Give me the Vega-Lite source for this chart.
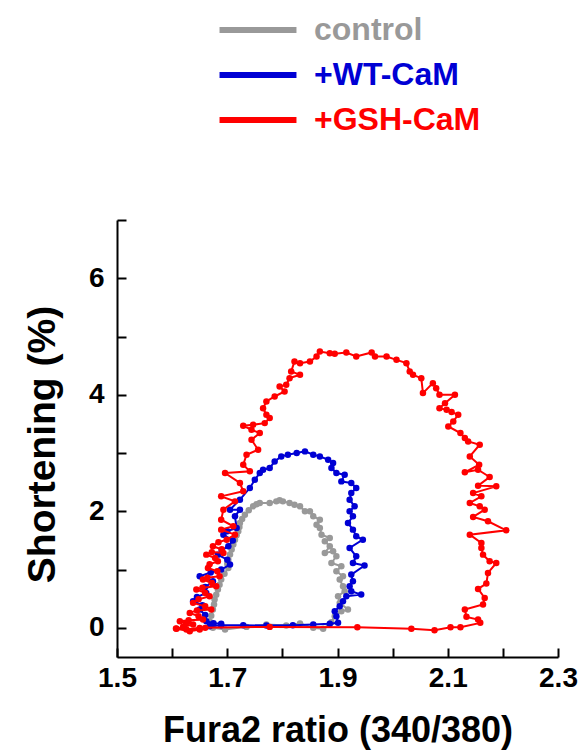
{
  "$schema": "https://vega.github.io/schema/vega-lite/v6.json",
  "autosize": {"type": "none"},
  "padding": {"left": 117, "top": 220, "right": 22, "bottom": 98},
  "width": 441,
  "height": 437,
  "background": "white",
  "config": {
    "font": "Liberation Sans",
    "view": {"stroke": null},
    "axis": {
      "grid": false,
      "domainColor": "black",
      "domainWidth": 2,
      "tickColor": "black",
      "tickWidth": 2,
      "tickSize": -9,
      "labelFont": "Liberation Sans",
      "labelFontSize": 28,
      "labelFontWeight": "bold",
      "labelColor": "black",
      "titleFont": "Liberation Sans",
      "titleFontWeight": "bold",
      "titleColor": "black"
    }
  },
  "data": {
    "values": [
      {"s": "control", "i": 1, "x": 1.674, "y": 0},
      {"s": "control", "i": 2, "x": 1.696, "y": -0.029},
      {"s": "control", "i": 3, "x": 1.735, "y": 0.017},
      {"s": "control", "i": 4, "x": 1.771, "y": 0.057},
      {"s": "control", "i": 5, "x": 1.807, "y": 0.04},
      {"s": "control", "i": 6, "x": 1.832, "y": 0.074},
      {"s": "control", "i": 7, "x": 1.856, "y": 0},
      {"s": "control", "i": 8, "x": 1.874, "y": -0.017},
      {"s": "control", "i": 9, "x": 1.889, "y": 0.097},
      {"s": "control", "i": 10, "x": 1.895, "y": 0.2},
      {"s": "control", "i": 11, "x": 1.907, "y": 0.286},
      {"s": "control", "i": 12, "x": 1.919, "y": 0.314},
      {"s": "control", "i": 13, "x": 1.904, "y": 0.429},
      {"s": "control", "i": 14, "x": 1.901, "y": 0.543},
      {"s": "control", "i": 15, "x": 1.913, "y": 0.629},
      {"s": "control", "i": 16, "x": 1.91, "y": 0.714},
      {"s": "control", "i": 17, "x": 1.904, "y": 0.829},
      {"s": "control", "i": 18, "x": 1.91, "y": 0.886},
      {"s": "control", "i": 19, "x": 1.898, "y": 0.971},
      {"s": "control", "i": 20, "x": 1.907, "y": 1.057},
      {"s": "control", "i": 21, "x": 1.889, "y": 1.114},
      {"s": "control", "i": 22, "x": 1.898, "y": 1.229},
      {"s": "control", "i": 23, "x": 1.892, "y": 1.314},
      {"s": "control", "i": 24, "x": 1.877, "y": 1.286},
      {"s": "control", "i": 25, "x": 1.886, "y": 1.4},
      {"s": "control", "i": 26, "x": 1.877, "y": 1.486},
      {"s": "control", "i": 27, "x": 1.886, "y": 1.543},
      {"s": "control", "i": 28, "x": 1.871, "y": 1.6},
      {"s": "control", "i": 29, "x": 1.868, "y": 1.714},
      {"s": "control", "i": 30, "x": 1.862, "y": 1.771},
      {"s": "control", "i": 31, "x": 1.868, "y": 1.857},
      {"s": "control", "i": 32, "x": 1.856, "y": 1.914},
      {"s": "control", "i": 33, "x": 1.85, "y": 2.0},
      {"s": "control", "i": 34, "x": 1.841, "y": 2.0},
      {"s": "control", "i": 35, "x": 1.832, "y": 2.086},
      {"s": "control", "i": 36, "x": 1.822, "y": 2.114},
      {"s": "control", "i": 37, "x": 1.813, "y": 2.143},
      {"s": "control", "i": 38, "x": 1.801, "y": 2.171},
      {"s": "control", "i": 39, "x": 1.795, "y": 2.19},
      {"s": "control", "i": 40, "x": 1.789, "y": 2.171},
      {"s": "control", "i": 41, "x": 1.777, "y": 2.143},
      {"s": "control", "i": 42, "x": 1.759, "y": 2.143},
      {"s": "control", "i": 43, "x": 1.753, "y": 2.12},
      {"s": "control", "i": 44, "x": 1.747, "y": 2.086},
      {"s": "control", "i": 45, "x": 1.739, "y": 2.02},
      {"s": "control", "i": 46, "x": 1.732, "y": 1.943},
      {"s": "control", "i": 47, "x": 1.727, "y": 1.87},
      {"s": "control", "i": 48, "x": 1.723, "y": 1.8},
      {"s": "control", "i": 49, "x": 1.722, "y": 1.73},
      {"s": "control", "i": 50, "x": 1.72, "y": 1.657},
      {"s": "control", "i": 51, "x": 1.717, "y": 1.59},
      {"s": "control", "i": 52, "x": 1.714, "y": 1.514},
      {"s": "control", "i": 53, "x": 1.711, "y": 1.43},
      {"s": "control", "i": 54, "x": 1.708, "y": 1.343},
      {"s": "control", "i": 55, "x": 1.705, "y": 1.26},
      {"s": "control", "i": 56, "x": 1.702, "y": 1.171},
      {"s": "control", "i": 57, "x": 1.7, "y": 1.1},
      {"s": "control", "i": 58, "x": 1.702, "y": 1.029},
      {"s": "control", "i": 59, "x": 1.695, "y": 0.93},
      {"s": "control", "i": 60, "x": 1.689, "y": 0.829},
      {"s": "control", "i": 61, "x": 1.686, "y": 0.74},
      {"s": "control", "i": 62, "x": 1.683, "y": 0.657},
      {"s": "control", "i": 63, "x": 1.68, "y": 0.57},
      {"s": "control", "i": 64, "x": 1.677, "y": 0.486},
      {"s": "control", "i": 65, "x": 1.676, "y": 0.4},
      {"s": "control", "i": 66, "x": 1.674, "y": 0.314},
      {"s": "control", "i": 67, "x": 1.671, "y": 0.21},
      {"s": "control", "i": 68, "x": 1.668, "y": 0.114},

      {"s": "+WT-CaM", "i": 1, "x": 1.668, "y": 0.029},
      {"s": "+WT-CaM", "i": 2, "x": 1.689, "y": 0.046},
      {"s": "+WT-CaM", "i": 3, "x": 1.729, "y": 0.046},
      {"s": "+WT-CaM", "i": 4, "x": 1.771, "y": 0.04},
      {"s": "+WT-CaM", "i": 5, "x": 1.819, "y": 0.046},
      {"s": "+WT-CaM", "i": 6, "x": 1.856, "y": 0.057},
      {"s": "+WT-CaM", "i": 7, "x": 1.886, "y": 0.069},
      {"s": "+WT-CaM", "i": 8, "x": 1.901, "y": 0.086},
      {"s": "+WT-CaM", "i": 9, "x": 1.898, "y": 0.2},
      {"s": "+WT-CaM", "i": 10, "x": 1.895, "y": 0.286},
      {"s": "+WT-CaM", "i": 11, "x": 1.904, "y": 0.371},
      {"s": "+WT-CaM", "i": 12, "x": 1.91, "y": 0.457},
      {"s": "+WT-CaM", "i": 13, "x": 1.916, "y": 0.543},
      {"s": "+WT-CaM", "i": 14, "x": 1.943, "y": 0.571},
      {"s": "+WT-CaM", "i": 15, "x": 1.925, "y": 0.629},
      {"s": "+WT-CaM", "i": 16, "x": 1.922, "y": 0.714},
      {"s": "+WT-CaM", "i": 17, "x": 1.928, "y": 0.8},
      {"s": "+WT-CaM", "i": 18, "x": 1.925, "y": 0.914},
      {"s": "+WT-CaM", "i": 19, "x": 1.949, "y": 1.069},
      {"s": "+WT-CaM", "i": 20, "x": 1.928, "y": 1.114},
      {"s": "+WT-CaM", "i": 21, "x": 1.934, "y": 1.229},
      {"s": "+WT-CaM", "i": 22, "x": 1.922, "y": 1.371},
      {"s": "+WT-CaM", "i": 23, "x": 1.946, "y": 1.514},
      {"s": "+WT-CaM", "i": 24, "x": 1.934, "y": 1.571},
      {"s": "+WT-CaM", "i": 25, "x": 1.928, "y": 1.686},
      {"s": "+WT-CaM", "i": 26, "x": 1.919, "y": 1.8},
      {"s": "+WT-CaM", "i": 27, "x": 1.928, "y": 1.914},
      {"s": "+WT-CaM", "i": 28, "x": 1.922, "y": 2.0},
      {"s": "+WT-CaM", "i": 29, "x": 1.931, "y": 2.086},
      {"s": "+WT-CaM", "i": 30, "x": 1.922, "y": 2.2},
      {"s": "+WT-CaM", "i": 31, "x": 1.925, "y": 2.314},
      {"s": "+WT-CaM", "i": 32, "x": 1.934, "y": 2.4},
      {"s": "+WT-CaM", "i": 33, "x": 1.925, "y": 2.486},
      {"s": "+WT-CaM", "i": 34, "x": 1.907, "y": 2.514},
      {"s": "+WT-CaM", "i": 35, "x": 1.913, "y": 2.629},
      {"s": "+WT-CaM", "i": 36, "x": 1.898, "y": 2.657},
      {"s": "+WT-CaM", "i": 37, "x": 1.889, "y": 2.743},
      {"s": "+WT-CaM", "i": 38, "x": 1.892, "y": 2.829},
      {"s": "+WT-CaM", "i": 39, "x": 1.883, "y": 2.886},
      {"s": "+WT-CaM", "i": 40, "x": 1.868, "y": 2.943},
      {"s": "+WT-CaM", "i": 41, "x": 1.856, "y": 2.971},
      {"s": "+WT-CaM", "i": 42, "x": 1.841, "y": 3.029},
      {"s": "+WT-CaM", "i": 43, "x": 1.826, "y": 3.0},
      {"s": "+WT-CaM", "i": 44, "x": 1.81, "y": 2.971},
      {"s": "+WT-CaM", "i": 45, "x": 1.798, "y": 2.943},
      {"s": "+WT-CaM", "i": 46, "x": 1.786, "y": 2.857},
      {"s": "+WT-CaM", "i": 47, "x": 1.777, "y": 2.743},
      {"s": "+WT-CaM", "i": 48, "x": 1.765, "y": 2.714},
      {"s": "+WT-CaM", "i": 49, "x": 1.759, "y": 2.657},
      {"s": "+WT-CaM", "i": 50, "x": 1.75, "y": 2.543},
      {"s": "+WT-CaM", "i": 51, "x": 1.741, "y": 2.4},
      {"s": "+WT-CaM", "i": 52, "x": 1.723, "y": 2.2},
      {"s": "+WT-CaM", "i": 53, "x": 1.705, "y": 2.029},
      {"s": "+WT-CaM", "i": 54, "x": 1.723, "y": 2.029},
      {"s": "+WT-CaM", "i": 55, "x": 1.714, "y": 1.914},
      {"s": "+WT-CaM", "i": 56, "x": 1.717, "y": 1.714},
      {"s": "+WT-CaM", "i": 57, "x": 1.7, "y": 1.66},
      {"s": "+WT-CaM", "i": 58, "x": 1.693, "y": 1.6},
      {"s": "+WT-CaM", "i": 59, "x": 1.71, "y": 1.5},
      {"s": "+WT-CaM", "i": 60, "x": 1.702, "y": 1.4},
      {"s": "+WT-CaM", "i": 61, "x": 1.69, "y": 1.33},
      {"s": "+WT-CaM", "i": 62, "x": 1.683, "y": 1.257},
      {"s": "+WT-CaM", "i": 63, "x": 1.7, "y": 1.17},
      {"s": "+WT-CaM", "i": 64, "x": 1.705, "y": 1.086},
      {"s": "+WT-CaM", "i": 65, "x": 1.689, "y": 1.0},
      {"s": "+WT-CaM", "i": 66, "x": 1.67, "y": 0.95},
      {"s": "+WT-CaM", "i": 67, "x": 1.65, "y": 0.886},
      {"s": "+WT-CaM", "i": 68, "x": 1.674, "y": 0.8},
      {"s": "+WT-CaM", "i": 69, "x": 1.66, "y": 0.7},
      {"s": "+WT-CaM", "i": 70, "x": 1.662, "y": 0.6},
      {"s": "+WT-CaM", "i": 71, "x": 1.645, "y": 0.53},
      {"s": "+WT-CaM", "i": 72, "x": 1.638, "y": 0.457},
      {"s": "+WT-CaM", "i": 73, "x": 1.655, "y": 0.39},
      {"s": "+WT-CaM", "i": 74, "x": 1.65, "y": 0.314},
      {"s": "+WT-CaM", "i": 75, "x": 1.66, "y": 0.22},
      {"s": "+WT-CaM", "i": 76, "x": 1.662, "y": 0.114},
      {"s": "+WT-CaM", "i": 77, "x": 1.675, "y": 0.08},
      {"s": "+WT-CaM", "i": 78, "x": 1.689, "y": 0.069},

      {"s": "+GSH-CaM", "i": 1, "x": 1.607, "y": -0.01},
      {"s": "+GSH-CaM", "i": 2, "x": 1.626, "y": -0.03},
      {"s": "+GSH-CaM", "i": 3, "x": 1.65, "y": 0},
      {"s": "+GSH-CaM", "i": 4, "x": 1.777, "y": 0.017},
      {"s": "+GSH-CaM", "i": 5, "x": 1.936, "y": 0.011},
      {"s": "+GSH-CaM", "i": 6, "x": 2.034, "y": -0.017},
      {"s": "+GSH-CaM", "i": 7, "x": 2.076, "y": -0.04},
      {"s": "+GSH-CaM", "i": 8, "x": 2.105, "y": 0.011},
      {"s": "+GSH-CaM", "i": 9, "x": 2.123, "y": 0.011},
      {"s": "+GSH-CaM", "i": 10, "x": 2.159, "y": 0.086},
      {"s": "+GSH-CaM", "i": 11, "x": 2.155, "y": 0.143},
      {"s": "+GSH-CaM", "i": 12, "x": 2.134, "y": 0.189},
      {"s": "+GSH-CaM", "i": 13, "x": 2.131, "y": 0.314},
      {"s": "+GSH-CaM", "i": 14, "x": 2.164, "y": 0.4},
      {"s": "+GSH-CaM", "i": 15, "x": 2.167, "y": 0.514},
      {"s": "+GSH-CaM", "i": 16, "x": 2.155, "y": 0.669},
      {"s": "+GSH-CaM", "i": 17, "x": 2.17, "y": 0.76},
      {"s": "+GSH-CaM", "i": 18, "x": 2.173, "y": 0.943},
      {"s": "+GSH-CaM", "i": 19, "x": 2.188, "y": 1.114},
      {"s": "+GSH-CaM", "i": 20, "x": 2.176, "y": 1.143},
      {"s": "+GSH-CaM", "i": 21, "x": 2.164, "y": 1.257},
      {"s": "+GSH-CaM", "i": 22, "x": 2.161, "y": 1.371},
      {"s": "+GSH-CaM", "i": 23, "x": 2.161, "y": 1.457},
      {"s": "+GSH-CaM", "i": 24, "x": 2.14, "y": 1.6},
      {"s": "+GSH-CaM", "i": 25, "x": 2.206, "y": 1.674},
      {"s": "+GSH-CaM", "i": 26, "x": 2.173, "y": 1.829},
      {"s": "+GSH-CaM", "i": 27, "x": 2.146, "y": 1.903},
      {"s": "+GSH-CaM", "i": 28, "x": 2.167, "y": 2.029},
      {"s": "+GSH-CaM", "i": 29, "x": 2.158, "y": 2.086},
      {"s": "+GSH-CaM", "i": 30, "x": 2.14, "y": 2.143},
      {"s": "+GSH-CaM", "i": 31, "x": 2.161, "y": 2.257},
      {"s": "+GSH-CaM", "i": 32, "x": 2.146, "y": 2.314},
      {"s": "+GSH-CaM", "i": 33, "x": 2.188, "y": 2.429},
      {"s": "+GSH-CaM", "i": 34, "x": 2.155, "y": 2.44},
      {"s": "+GSH-CaM", "i": 35, "x": 2.176, "y": 2.589},
      {"s": "+GSH-CaM", "i": 36, "x": 2.155, "y": 2.714},
      {"s": "+GSH-CaM", "i": 37, "x": 2.131, "y": 2.669},
      {"s": "+GSH-CaM", "i": 38, "x": 2.157, "y": 2.8},
      {"s": "+GSH-CaM", "i": 39, "x": 2.14, "y": 2.943},
      {"s": "+GSH-CaM", "i": 40, "x": 2.158, "y": 3.143},
      {"s": "+GSH-CaM", "i": 41, "x": 2.137, "y": 3.2},
      {"s": "+GSH-CaM", "i": 42, "x": 2.131, "y": 3.257},
      {"s": "+GSH-CaM", "i": 43, "x": 2.123, "y": 3.343},
      {"s": "+GSH-CaM", "i": 44, "x": 2.101, "y": 3.457},
      {"s": "+GSH-CaM", "i": 45, "x": 2.11, "y": 3.543},
      {"s": "+GSH-CaM", "i": 46, "x": 2.119, "y": 3.657},
      {"s": "+GSH-CaM", "i": 47, "x": 2.107, "y": 3.703},
      {"s": "+GSH-CaM", "i": 48, "x": 2.098, "y": 3.743},
      {"s": "+GSH-CaM", "i": 49, "x": 2.085, "y": 3.771},
      {"s": "+GSH-CaM", "i": 50, "x": 2.095, "y": 3.857},
      {"s": "+GSH-CaM", "i": 51, "x": 2.113, "y": 4.0},
      {"s": "+GSH-CaM", "i": 52, "x": 2.085, "y": 4.0},
      {"s": "+GSH-CaM", "i": 53, "x": 2.079, "y": 4.114},
      {"s": "+GSH-CaM", "i": 54, "x": 2.073, "y": 4.2},
      {"s": "+GSH-CaM", "i": 55, "x": 2.055, "y": 4.029},
      {"s": "+GSH-CaM", "i": 56, "x": 2.052, "y": 4.286},
      {"s": "+GSH-CaM", "i": 57, "x": 2.037, "y": 4.343},
      {"s": "+GSH-CaM", "i": 58, "x": 2.031, "y": 4.4},
      {"s": "+GSH-CaM", "i": 59, "x": 2.025, "y": 4.543},
      {"s": "+GSH-CaM", "i": 60, "x": 2.007, "y": 4.6},
      {"s": "+GSH-CaM", "i": 61, "x": 1.989, "y": 4.657},
      {"s": "+GSH-CaM", "i": 62, "x": 1.968, "y": 4.657},
      {"s": "+GSH-CaM", "i": 63, "x": 1.962, "y": 4.726},
      {"s": "+GSH-CaM", "i": 64, "x": 1.934, "y": 4.657},
      {"s": "+GSH-CaM", "i": 65, "x": 1.916, "y": 4.726},
      {"s": "+GSH-CaM", "i": 66, "x": 1.895, "y": 4.703},
      {"s": "+GSH-CaM", "i": 67, "x": 1.886, "y": 4.714},
      {"s": "+GSH-CaM", "i": 68, "x": 1.868, "y": 4.743},
      {"s": "+GSH-CaM", "i": 69, "x": 1.862, "y": 4.657},
      {"s": "+GSH-CaM", "i": 70, "x": 1.85, "y": 4.571},
      {"s": "+GSH-CaM", "i": 71, "x": 1.832, "y": 4.543},
      {"s": "+GSH-CaM", "i": 72, "x": 1.822, "y": 4.571},
      {"s": "+GSH-CaM", "i": 73, "x": 1.816, "y": 4.4},
      {"s": "+GSH-CaM", "i": 74, "x": 1.832, "y": 4.343},
      {"s": "+GSH-CaM", "i": 75, "x": 1.813, "y": 4.286},
      {"s": "+GSH-CaM", "i": 76, "x": 1.807, "y": 4.171},
      {"s": "+GSH-CaM", "i": 77, "x": 1.795, "y": 4.143},
      {"s": "+GSH-CaM", "i": 78, "x": 1.804, "y": 4.057},
      {"s": "+GSH-CaM", "i": 79, "x": 1.786, "y": 3.971},
      {"s": "+GSH-CaM", "i": 80, "x": 1.771, "y": 3.886},
      {"s": "+GSH-CaM", "i": 81, "x": 1.765, "y": 3.771},
      {"s": "+GSH-CaM", "i": 82, "x": 1.771, "y": 3.657},
      {"s": "+GSH-CaM", "i": 83, "x": 1.777, "y": 3.6},
      {"s": "+GSH-CaM", "i": 84, "x": 1.768, "y": 3.514},
      {"s": "+GSH-CaM", "i": 85, "x": 1.747, "y": 3.486},
      {"s": "+GSH-CaM", "i": 86, "x": 1.729, "y": 3.469},
      {"s": "+GSH-CaM", "i": 87, "x": 1.744, "y": 3.4},
      {"s": "+GSH-CaM", "i": 88, "x": 1.759, "y": 3.343},
      {"s": "+GSH-CaM", "i": 89, "x": 1.744, "y": 3.229},
      {"s": "+GSH-CaM", "i": 90, "x": 1.756, "y": 3.057},
      {"s": "+GSH-CaM", "i": 91, "x": 1.735, "y": 2.971},
      {"s": "+GSH-CaM", "i": 92, "x": 1.729, "y": 2.8},
      {"s": "+GSH-CaM", "i": 93, "x": 1.741, "y": 2.686},
      {"s": "+GSH-CaM", "i": 94, "x": 1.696, "y": 2.657},
      {"s": "+GSH-CaM", "i": 95, "x": 1.723, "y": 2.486},
      {"s": "+GSH-CaM", "i": 96, "x": 1.729, "y": 2.343},
      {"s": "+GSH-CaM", "i": 97, "x": 1.689, "y": 2.257},
      {"s": "+GSH-CaM", "i": 98, "x": 1.714, "y": 2.171},
      {"s": "+GSH-CaM", "i": 99, "x": 1.693, "y": 2.029},
      {"s": "+GSH-CaM", "i": 100, "x": 1.689, "y": 1.857},
      {"s": "+GSH-CaM", "i": 101, "x": 1.711, "y": 1.743},
      {"s": "+GSH-CaM", "i": 102, "x": 1.689, "y": 1.686},
      {"s": "+GSH-CaM", "i": 103, "x": 1.714, "y": 1.6},
      {"s": "+GSH-CaM", "i": 104, "x": 1.699, "y": 1.514},
      {"s": "+GSH-CaM", "i": 105, "x": 1.684, "y": 1.47},
      {"s": "+GSH-CaM", "i": 106, "x": 1.674, "y": 1.4},
      {"s": "+GSH-CaM", "i": 107, "x": 1.69, "y": 1.35},
      {"s": "+GSH-CaM", "i": 108, "x": 1.693, "y": 1.286},
      {"s": "+GSH-CaM", "i": 109, "x": 1.672, "y": 1.3},
      {"s": "+GSH-CaM", "i": 110, "x": 1.662, "y": 1.257},
      {"s": "+GSH-CaM", "i": 111, "x": 1.678, "y": 1.2},
      {"s": "+GSH-CaM", "i": 112, "x": 1.683, "y": 1.143},
      {"s": "+GSH-CaM", "i": 113, "x": 1.668, "y": 1.09},
      {"s": "+GSH-CaM", "i": 114, "x": 1.665, "y": 1.029},
      {"s": "+GSH-CaM", "i": 115, "x": 1.682, "y": 0.97},
      {"s": "+GSH-CaM", "i": 116, "x": 1.686, "y": 0.886},
      {"s": "+GSH-CaM", "i": 117, "x": 1.664, "y": 0.86},
      {"s": "+GSH-CaM", "i": 118, "x": 1.656, "y": 0.829},
      {"s": "+GSH-CaM", "i": 119, "x": 1.672, "y": 0.77},
      {"s": "+GSH-CaM", "i": 120, "x": 1.68, "y": 0.714},
      {"s": "+GSH-CaM", "i": 121, "x": 1.655, "y": 0.69},
      {"s": "+GSH-CaM", "i": 122, "x": 1.644, "y": 0.657},
      {"s": "+GSH-CaM", "i": 123, "x": 1.66, "y": 0.6},
      {"s": "+GSH-CaM", "i": 124, "x": 1.668, "y": 0.543},
      {"s": "+GSH-CaM", "i": 125, "x": 1.648, "y": 0.49},
      {"s": "+GSH-CaM", "i": 126, "x": 1.638, "y": 0.429},
      {"s": "+GSH-CaM", "i": 127, "x": 1.66, "y": 0.37},
      {"s": "+GSH-CaM", "i": 128, "x": 1.671, "y": 0.314},
      {"s": "+GSH-CaM", "i": 129, "x": 1.645, "y": 0.3},
      {"s": "+GSH-CaM", "i": 130, "x": 1.632, "y": 0.257},
      {"s": "+GSH-CaM", "i": 131, "x": 1.648, "y": 0.2},
      {"s": "+GSH-CaM", "i": 132, "x": 1.656, "y": 0.143},
      {"s": "+GSH-CaM", "i": 133, "x": 1.63, "y": 0.13},
      {"s": "+GSH-CaM", "i": 134, "x": 1.614, "y": 0.114},
      {"s": "+GSH-CaM", "i": 135, "x": 1.625, "y": 0.08},
      {"s": "+GSH-CaM", "i": 136, "x": 1.638, "y": 0.057},
      {"s": "+GSH-CaM", "i": 137, "x": 1.62, "y": 0.02},
      {"s": "+GSH-CaM", "i": 138, "x": 1.608, "y": -0.017},
      {"s": "+GSH-CaM", "i": 139, "x": 1.632, "y": -0.057},
      {"s": "+GSH-CaM", "i": 140, "x": 1.65, "y": -0.029},
      {"s": "+GSH-CaM", "i": 141, "x": 1.66, "y": 0.0}
    ]
  },
  "encoding": {
    "x": {
      "field": "x", "type": "quantitative",
      "scale": {"domain": [1.5, 2.3], "nice": false, "zero": false},
      "axis": {
        "title": "Fura2 ratio (340/380)",
        "titleFontSize": 36,
        "titlePadding": 21,
        "values": [1.5, 1.6, 1.7, 1.8, 1.9, 2.0, 2.1, 2.2, 2.3],
        "labelExpr": "round(datum.value*10) % 2 == 1 ? format(datum.value, '.1f') : ''",
        "labelPadding": 16,
        "labelFlush": false,
        "labelOverlap": false
      }
    },
    "y": {
      "field": "y", "type": "quantitative",
      "scale": {"domain": [-0.5, 7], "nice": false, "zero": false},
      "axis": {
        "title": "Shortening (%)",
        "titleFontSize": 39,
        "titlePadding": 26,
        "titleY": 224,
        "values": [0, 1, 2, 3, 4, 5, 6, 7],
        "labelExpr": "datum.value % 2 == 0 ? datum.label : ''",
        "labelPadding": 22,
        "labelFlush": false,
        "labelOverlap": false
      }
    },
    "color": {
      "field": "s", "type": "nominal",
      "scale": {"domain": ["control", "+WT-CaM", "+GSH-CaM"], "range": ["#999999", "#0000d4", "#ff0000"]},
      "legend": {
        "orient": "none",
        "legendX": 125,
        "legendY": -206,
        "title": null,
        "padding": 0,
        "symbolType": "M-4,0H4",
        "symbolSize": 370,
        "symbolStrokeWidth": 6,
        "labelFont": "Liberation Sans",
        "labelFontSize": 32,
        "labelFontWeight": "bold",
        "labelOffset": 40,
        "labelLimit": 400,
        "rowPadding": 13,
        "encode": {"labels": {"update": {"fill": {"scale": "color", "field": "value"}}}}
      }
    },
    "order": {"field": "i", "type": "quantitative"}
  },
  "layer": [
    {
      "transform": [{"filter": "datum.s == 'control'"}],
      "mark": {"type": "line", "strokeWidth": 2, "point": {"filled": true, "size": 42}}
    },
    {
      "transform": [{"filter": "datum.s == '+WT-CaM'"}],
      "mark": {"type": "line", "strokeWidth": 2, "point": {"filled": true, "size": 42}}
    },
    {
      "transform": [{"filter": "datum.s == '+GSH-CaM'"}],
      "mark": {"type": "line", "strokeWidth": 2, "point": {"filled": true, "size": 42}}
    }
  ]
}
